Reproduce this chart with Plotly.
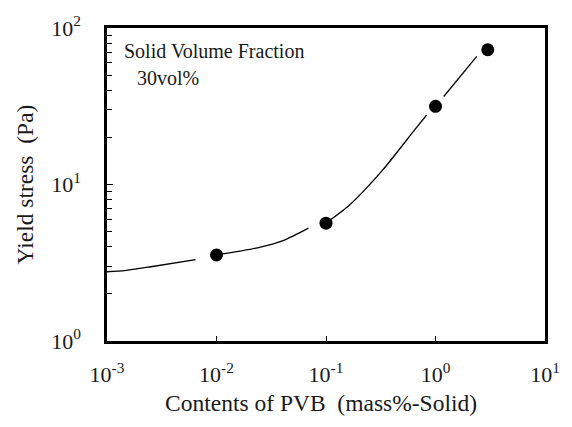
import plotly.graph_objects as go

# Measured data points
pvb_content = [0.01, 0.1, 1.0, 3.0]
yield_stress = [3.55, 5.66, 31.6, 72.6]

# Fitted curve (segments separated by gaps near markers)
curve_x = [0.001, 0.00145, 0.00244, 0.00644, None,
           0.0102, 0.0237, 0.0412, 0.0692, None,
           0.1, 0.164, 0.327, 0.650, 0.830, None,
           1.19, 2.38]
curve_y = [2.77, 2.82, 2.97, 3.31, None,
           3.56, 3.94, 4.40, 5.26, None,
           5.66, 7.39, 12.3, 22.5, 27.8, None,
           36.5, 65.9]

x_tickvals = [0.001, 0.01, 0.1, 1, 10]
x_ticktext = ["10<sup>-3</sup>", "10<sup>-2</sup>", "10<sup>-1</sup>", "10<sup>0</sup>", "10<sup>1</sup>"]
y_tickvals = [1, 10, 100]
y_ticktext = ["10<sup>0</sup>", "10<sup>1</sup>", "10<sup>2</sup>"]

FONT = "Liberation Serif, Times New Roman, serif"
TXT = "#1a1a1a"

fig = go.Figure()
fig.add_trace(go.Scatter(x=curve_x, y=curve_y, mode="lines",
                         line=dict(color="black", width=1.3, shape="spline", smoothing=0.7),
                         connectgaps=False, hoverinfo="skip", showlegend=False))
fig.add_trace(go.Scatter(x=pvb_content, y=yield_stress, mode="markers",
                         marker=dict(color="black", size=13), showlegend=False))

axis_common = dict(showline=True, linecolor="black", linewidth=2.5, mirror=True,
                   showgrid=False, zeroline=False, ticks="inside", tickcolor="black",
                   tickwidth=1, tickfont=dict(family=FONT, size=22, color=TXT))

fig.update_xaxes(type="log", range=[-3, 1], tickvals=x_tickvals, ticktext=x_ticktext,
                 ticklen=5, ticklabelstandoff=12, **axis_common)
fig.update_yaxes(type="log", range=[0, 2], tickvals=y_tickvals, ticktext=y_ticktext,
                 ticklen=6, ticklabelstandoff=19,
                 minor=dict(ticks="inside", ticklen=5, tickcolor="black", tickwidth=1,
                            dtick="D1", showgrid=False),
                 **axis_common)

fig.update_layout(
    width=572, height=427,
    margin=dict(l=107, r=20, t=24, b=86),
    plot_bgcolor="white", paper_bgcolor="white",
    font=dict(family=FONT, color=TXT),
    annotations=[
        dict(text="Contents of PVB  (mass%-Solid)", xref="paper", yref="paper",
             x=0.488, y=0, xanchor="center", yanchor="middle", yshift=-62,
             showarrow=False, font=dict(family=FONT, size=23.5, color=TXT)),
        dict(text="Yield stress  (Pa)", xref="paper", yref="paper",
             x=0, y=0.5, xanchor="center", yanchor="middle", xshift=-83,
             textangle=-90, showarrow=False, font=dict(family=FONT, size=23.5, color=TXT)),
        dict(text="Solid Volume Fraction", xref="paper", yref="paper",
             x=0.034, y=0.927, xanchor="left", yanchor="middle",
             showarrow=False, font=dict(family=FONT, size=20, color=TXT)),
        dict(text="30vol%", xref="paper", yref="paper",
             x=0.065, y=0.839, xanchor="left", yanchor="middle",
             showarrow=False, font=dict(family=FONT, size=20, color=TXT)),
    ],
)

fig.write_html("out.html")
